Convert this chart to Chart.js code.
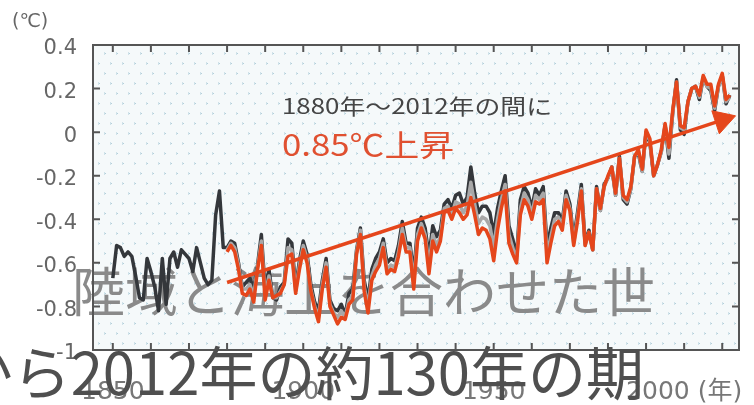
<!DOCTYPE html>
<html lang="ja">
<head>
<meta charset="utf-8">
<script src="https://cdn.jsdelivr.net/npm/chart.js@4.4.1/dist/chart.umd.min.js"></script>
<style>
html, body { margin: 0; padding: 0; background: #fff; }
#wrap { width: 754px; height: 405px; position: relative; overflow: hidden; }
</style>
</head>
<body>
<div id="wrap"><canvas id="myChart" width="754" height="405"></canvas></div>
<script>
// 世界平均地上気温の偏差 (℃)
const blackStart = 1850;
const blackTemps = [
  -0.67, -0.52, -0.53, -0.57, -0.55, -0.57, -0.66, -0.76, -0.77, -0.58,
  -0.64, -0.71, -0.82, -0.58, -0.79, -0.58, -0.55, -0.62, -0.54, -0.56,
  -0.58, -0.64, -0.53, -0.60, -0.67, -0.70, -0.68, -0.38, -0.27, -0.53,
  -0.53, -0.50, -0.51, -0.60, -0.71, -0.69, -0.67, -0.72, -0.61, -0.47,
  -0.72, -0.63, -0.76, -0.77, -0.71, -0.69, -0.49, -0.51, -0.71, -0.59,
  -0.50, -0.56, -0.70, -0.78, -0.82, -0.68, -0.58, -0.77, -0.81, -0.82,
  -0.79, -0.84, -0.74, -0.72, -0.54, -0.44, -0.68, -0.77, -0.63, -0.58,
  -0.55, -0.49, -0.60, -0.58, -0.59, -0.52, -0.41, -0.51, -0.51, -0.65,
  -0.44, -0.39, -0.44, -0.57, -0.43, -0.48, -0.45, -0.33, -0.31, -0.35,
  -0.29, -0.28, -0.33, -0.30, -0.16, -0.28, -0.37, -0.34, -0.34, -0.37,
  -0.47, -0.35, -0.27, -0.20, -0.43, -0.49, -0.57, -0.31, -0.25, -0.28,
  -0.35, -0.26, -0.29, -0.25, -0.52, -0.44, -0.37, -0.37, -0.41, -0.27,
  -0.33, -0.49, -0.37, -0.24, -0.51, -0.45, -0.54, -0.25, -0.36, -0.24,
  -0.21, -0.16, -0.29, -0.11, -0.31, -0.33, -0.26, -0.11, -0.10, -0.18,
  0.00, -0.05, -0.20, -0.15, -0.09, 0.03, -0.12, 0.09, 0.24, 0.01,
  -0.01, 0.14, 0.20, 0.21, 0.15, 0.25, 0.21, 0.19, 0.10, 0.21,
  0.26, 0.13, 0.17
];

const redStart = 1880;
const redTemps = [
  -0.55, -0.52, -0.55, -0.63, -0.74, -0.75, -0.72, -0.78, -0.63, -0.52,
  -0.77, -0.68, -0.76, -0.75, -0.74, -0.70, -0.57, -0.56, -0.74, -0.63,
  -0.54, -0.60, -0.73, -0.81, -0.87, -0.72, -0.62, -0.80, -0.84, -0.88,
  -0.85, -0.86, -0.79, -0.77, -0.56, -0.47, -0.73, -0.83, -0.68, -0.64,
  -0.61, -0.53, -0.65, -0.63, -0.64, -0.57, -0.47, -0.55, -0.55, -0.72,
  -0.50, -0.44, -0.49, -0.65, -0.50, -0.55, -0.50, -0.37, -0.36, -0.40,
  -0.35, -0.37, -0.40, -0.38, -0.30, -0.38, -0.47, -0.44, -0.45, -0.49,
  -0.59, -0.45, -0.35, -0.27, -0.51, -0.56, -0.60, -0.38, -0.31, -0.34,
  -0.40, -0.32, -0.33, -0.31, -0.60, -0.51, -0.43, -0.41, -0.45, -0.31,
  -0.36, -0.52, -0.41, -0.27, -0.52, -0.46, -0.54, -0.26, -0.35, -0.25,
  -0.20, -0.16, -0.28, -0.12, -0.29, -0.31, -0.25, -0.11, -0.08, -0.17,
  0.01, -0.03, -0.20, -0.15, -0.08, 0.04, -0.07, 0.10, 0.23, 0.03,
  0.02, 0.14, 0.20, 0.21, 0.17, 0.26, 0.22, 0.22, 0.12, 0.22,
  0.27, 0.15, 0.17
];

const grayStart = 1880;
const grayTemps = [
  -0.54, -0.51, -0.53, -0.61, -0.72, -0.72, -0.70, -0.75, -0.62, -0.50,
  -0.75, -0.66, -0.76, -0.76, -0.73, -0.70, -0.53, -0.54, -0.73, -0.61,
  -0.52, -0.58, -0.72, -0.80, -0.85, -0.70, -0.60, -0.79, -0.83, -0.85,
  -0.82, -0.85, -0.77, -0.75, -0.55, -0.45, -0.71, -0.80, -0.66, -0.61,
  -0.58, -0.51, -0.63, -0.61, -0.62, -0.55, -0.44, -0.53, -0.53, -0.69,
  -0.47, -0.42, -0.47, -0.61, -0.47, -0.52, -0.48, -0.35, -0.34, -0.38,
  -0.32, -0.33, -0.37, -0.34, -0.23, -0.33, -0.42, -0.39, -0.40, -0.43,
  -0.53, -0.40, -0.31, -0.24, -0.47, -0.53, -0.59, -0.35, -0.28, -0.31,
  -0.38, -0.29, -0.31, -0.28, -0.56, -0.48, -0.40, -0.39, -0.43, -0.29,
  -0.35, -0.51, -0.39, -0.26, -0.52, -0.46, -0.54, -0.26, -0.36, -0.25,
  -0.21, -0.16, -0.29, -0.12, -0.30, -0.32, -0.26, -0.11, -0.09, -0.18,
  0.00, -0.04, -0.20, -0.15, -0.09, 0.03, -0.10, 0.09, 0.23, 0.02,
  0.01, 0.14, 0.20, 0.21, 0.16, 0.25, 0.21, 0.20, 0.11, 0.21,
  0.26, 0.14, 0.16
];

// 1880年から2012年のトレンド (矢印)
const trendYears = [1880, 2010];
const trendTemps = [-0.69, 0.055];

const xTickYears = [1850, 1860, 1870, 1880, 1890, 1900, 1910, 1920, 1930, 1940, 1950, 1960, 1970, 1980, 1990, 2000, 2010];
const xLabelYears = [1850, 1900, 1950, 2000];
const xLabelTexts = ['1850', '1900', '1950', '2000 (年)'];
const yMin = -1.0, yMax = 0.4, yStep = 0.2;

const unitText = '(℃)';
const noteText1 = '1880年～2012年の間に';
const noteText2 = '0.85℃上昇';
const captionText1 = '陸域と海上を合わせた世';
const captionText2 = 'から2012年の約130年の期';

const RED = '#e5461b';
const JP = '"Noto Sans CJK JP", "Noto Sans", sans-serif';

function toPoints(start, values) {
    return values.map((v, i) => ({ x: start + i, y: v }));
}

function makeDots(ctx) {
    const c = document.createElement('canvas');
    c.width = 12; c.height = 20;
    const p = c.getContext('2d');
    p.fillStyle = '#f5f9fa';
    p.fillRect(0, 0, 12, 20);
    p.fillStyle = '#b3cfda';
    p.fillRect(2, 3, 2, 1);
    p.fillRect(8, 13, 2, 1);
    p.fillStyle = '#d0e2e9';
    p.fillRect(2, 2, 1, 3);
    p.fillRect(8, 12, 1, 3);
    return ctx.createPattern(c, 'repeat');
}

function fitText(ctx, text, x, y, width) {
    // de tekst wordt horizontaal uitgerekt zoals in het origineel
    const w = ctx.measureText(text).width;
    ctx.save();
    ctx.translate(x, y);
    ctx.scale(width / w, 1);
    ctx.fillText(text, 0, 0);
    ctx.restore();
}

const framePlugin = {
    id: 'frame',
    beforeDatasetsDraw(chart) {
        const { ctx, chartArea: a } = chart;
        ctx.save();
        ctx.fillStyle = makeDots(ctx);
        ctx.fillRect(a.left, a.top, a.right - a.left, a.bottom - a.top);

        // ondertitel 1 (grijs), onder de lijnen
        ctx.fillStyle = '#8a8a8a';
        ctx.font = '53px ' + JP;
        ctx.textBaseline = 'middle';
        ctx.textAlign = 'left';
        ctx.fillText(captionText1, 72, 292);
        ctx.restore();
    },
    afterDatasetsDraw(chart) {
        const { ctx, chartArea: a, scales } = chart;
        ctx.save();
        // kader en ticks naar binnen
        ctx.strokeStyle = '#555';
        ctx.lineWidth = 2;
        ctx.strokeRect(a.left, a.top, a.right - a.left, a.bottom - a.top);
        ctx.beginPath();
        scales.x.ticks.forEach(t => {
            const px = scales.x.getPixelForValue(t.value);
            ctx.moveTo(px, a.top); ctx.lineTo(px, a.top + 7);
            ctx.moveTo(px, a.bottom); ctx.lineTo(px, a.bottom - 7);
        });
        scales.y.ticks.forEach(t => {
            const py = scales.y.getPixelForValue(t.value);
            ctx.moveTo(a.left, py); ctx.lineTo(a.left + 7, py);
            ctx.moveTo(a.right, py); ctx.lineTo(a.right - 7, py);
        });
        ctx.stroke();

        // eenheid
        ctx.fillStyle = '#666';
        ctx.font = '19px "DejaVu Sans", ' + JP;
        ctx.textBaseline = 'middle';
        ctx.textAlign = 'left';
        ctx.fillText(unitText, 12, 22);

        // annotatie
        ctx.fillStyle = '#454545';
        ctx.font = '21px ' + JP;
        fitText(ctx, noteText1, 282, 106, 270);
        ctx.fillStyle = '#e05030';
        ctx.font = '30px ' + JP;
        fitText(ctx, noteText2, 282, 145, 172);
        ctx.restore();
    },
    afterDraw(chart) {
        const ctx = chart.ctx;
        ctx.save();
        ctx.fillStyle = '#4f4f4f';
        ctx.font = '58px ' + JP;
        ctx.textBaseline = 'middle';
        ctx.textAlign = 'right';
        ctx.fillText(captionText2, 644, 373);
        ctx.restore();
    }
};

const lineStyle = {
    pointRadius: 0,
    borderWidth: 3.5,
    tension: 0,
    borderJoinStyle: 'round',
    fill: false
};

const ctx = document.getElementById('myChart').getContext('2d');
new Chart(ctx, {
    type: 'line',
    data: {
        datasets: [
            {
                data: trendYears.map((yr, i) => ({ x: yr, y: trendTemps[i] })),
                borderColor: RED,
                borderWidth: 3.5,
                pointStyle: 'triangle',
                pointRadius: [0, 14],
                pointRotation: [0, 72],
                pointBackgroundColor: RED,
                pointBorderColor: RED,
                pointBorderWidth: 1,
                tension: 0
            },
            Object.assign({ data: toPoints(redStart, redTemps), borderColor: RED }, lineStyle),
            Object.assign({ data: toPoints(grayStart, grayTemps), borderColor: '#a8a8a8' }, lineStyle),
            Object.assign({ data: toPoints(blackStart, blackTemps), borderColor: '#34373b' }, lineStyle)
        ]
    },
    options: {
        responsive: false,
        animation: false,
        devicePixelRatio: 1,
        layout: { padding: { top: 45, right: 5, left: 0, bottom: 0 } },
        plugins: { legend: { display: false }, tooltip: { enabled: false } },
        scales: {
            x: {
                type: 'linear',
                min: 1844.8,
                max: 2014.4,
                afterBuildTicks: s => { s.ticks = xTickYears.map(v => ({ value: v })); },
                afterFit: s => { s.height = 55; },
                grid: { display: false },
                border: { display: false },
                ticks: {
                    autoSkip: false,
                    maxRotation: 0,
                    padding: 19,
                    color: '#777',
                    font: { family: '"DejaVu Sans", "Noto Sans CJK JP"', size: 25 },
                    callback: v => {
                        const k = xLabelYears.indexOf(v);
                        return k >= 0 ? xLabelTexts[k] : '';
                    }
                }
            },
            y: {
                min: yMin,
                max: yMax,
                afterFit: s => { s.width = 93; },
                grid: { display: false, drawTicks: false },
                border: { display: false },
                ticks: {
                    stepSize: yStep,
                    padding: 16,
                    labelOffset: 4,
                    color: '#666',
                    font: { family: '"DejaVu Sans"', size: 21 },
                    callback: v => String(Number(v.toFixed(1)))
                }
            }
        }
    },
    plugins: [framePlugin]
});
</script>
</body>
</html>
